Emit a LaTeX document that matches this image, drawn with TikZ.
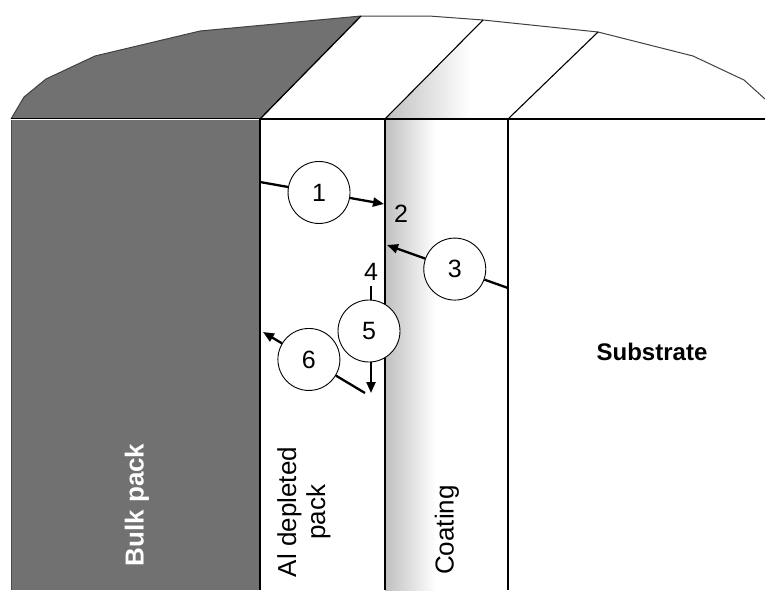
\documentclass[tikz,border=0pt]{standalone}
\usepackage{fontspec}
\setmainfont{Liberation Sans}
\usetikzlibrary{arrows.meta,calc}
\definecolor{packgray}{HTML}{717171}
\definecolor{coatgray}{HTML}{C0C0C0}
\definecolor{rimgray}{HTML}{4A4A4A}

\begin{document}
\begin{tikzpicture}[x=1pt,y=-1pt,
  circ/.style={circle,draw=black,line width=0.9pt,fill=white,minimum size=62pt,
    inner sep=0pt,font=\fontsize{25}{28}\selectfont},
  link/.style={line width=2.3pt},
  flow/.style={line width=2.3pt,-{Triangle[length=11pt,width=9pt]}},
  num/.style={inner sep=1pt,font=\fontsize{25}{28}\selectfont},
  layerline/.style={line width=1.4pt,black},
  domeline/.style={line width=1pt,draw=black!75},
  layertext/.style={rotate=90,align=center,font=\fontsize{26}{29}\selectfont},
]
% page
\fill[white] (0,0) rectangle (765,590);
\useasboundingbox (0,0) rectangle (765,590);

% layers below the rim
\fill[packgray] (11,119) rectangle (260,590);
\shade[left color=coatgray,right color=white] (385,119) rectangle (436,590);

% domed top of the layers
\fill[packgray] (11,119) -- (24,97) -- (46,79) -- (95,56) -- (200,31)
  -- (361,16) -- (260,119) -- cycle;
\begin{scope}
  \clip (385,119) -- (483,20) -- (598,32) -- (508,119) -- cycle;
  \shade[left color=coatgray,right color=white] (385,10) rectangle (470,120);
\end{scope}
\draw[domeline] (11,119) -- (24,97) -- (46,79) -- (95,56) -- (200,31)
  -- (361,16) -- (429,16) -- (483,20) -- (598,32) -- (693,56) -- (744,80)
  -- (765,99);
\draw[line width=1.3pt] (260,119) -- (361,16);
\draw[line width=1.1pt] (385,119) -- (483,20);
\draw[line width=1.1pt] (508,119) -- (598,32);

% rim between dome and columns
\draw[line width=2.4pt,black] (11,119) -- (765,119);
\draw[line width=0.8pt,white] (11,119) -- (259,119);
\draw[line width=0.8pt,rimgray] (11,120) -- (11,590);

% layer boundaries
\draw[layerline] (260,118) -- (260,590);
\draw[layerline] (385,118) -- (385,590);
\draw[layerline] (508,118) -- (508,590);

% layer names
\node[layertext,text=white,font=\fontsize{26}{29}\selectfont\bfseries] (bulk) at (137,505) {Bulk pack};
\node[layertext] (depl) at (304,512) {Al depleted\\pack};
\node[layertext] (coat) at (447,530) {Coating};
\node[font=\fontsize{24}{28}\selectfont\bfseries] (subs) at (652,352) {Substrate};

% transport steps
\coordinate (s1) at (260,182);
\coordinate (e1) at (384,204);
\node[circ] (c1) at ($(s1)!0.476!(e1)$) {1};
\draw[link] (s1) -- (c1);
\draw[flow] (c1) -- (e1);

\node[num] (n2) at (401,214) {2};

\coordinate (s3) at (508,288);
\coordinate (e3) at (387,245);
\node[circ] (c3) at ($(s3)!0.44!(e3)$) {3};
\draw[link] (s3) -- (c3);
\draw[flow] (c3) -- (e3);

\node[num] (n4) at (371,272) {4};
\coordinate (e5) at (371,393);
\node[circ] (c5) at (369,331) {5};
\draw[link] (n4.south) ++(0,4) coordinate (s5) -- (s5 |- c5.north);
\draw[flow] (c5.south -| e5) -- (e5);

\coordinate (s6) at (365,393);
\coordinate (e6) at (263,332);
\node[circ] (c6) at ($(s6)!0.55!(e6)$) {6};
\draw[link] (s6) -- (c6);
\draw[flow] (c6) -- (e6);
\end{tikzpicture}
\end{document}
